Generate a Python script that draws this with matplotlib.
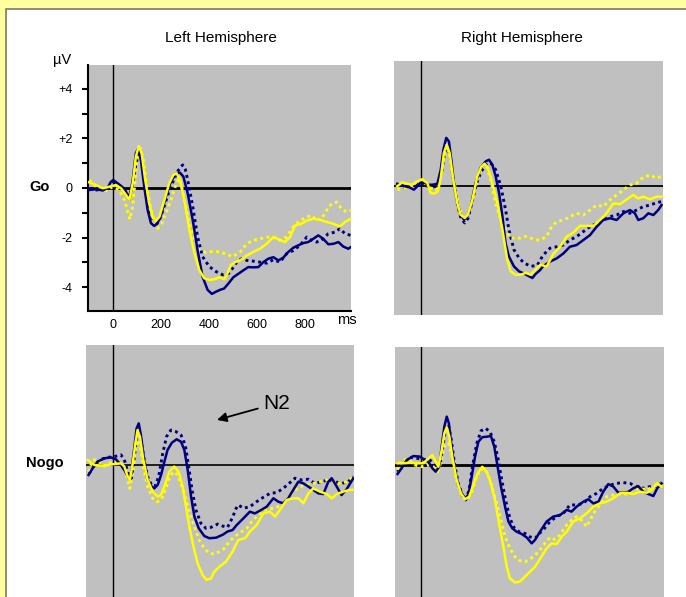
import matplotlib
matplotlib.use('Agg')
import matplotlib.pyplot as plt
from matplotlib.patches import Rectangle

plt.rcParams['font.family'] = ['Liberation Sans', 'DejaVu Sans']

W, H = 686, 597
PX_MS = 0.24   # pixels per ms
PX_UV = 24.8   # pixels per microvolt

NAVY = '#000080'
YELLOW = '#FFFF00'
GREY = '#C0C0C0'

# ---- Go, left hemisphere ----
tl_bs_t = [-100, -72, -44, -24, -10, 0, 18, 39, 53, 67, 81, 94, 104, 115, 129, 143, 157, 171, 185, 199, 219, 240, 261, 278, 292, 310, 331, 351, 372, 393, 411, 428, 449, 461, 479, 500, 521, 542, 562, 583, 604, 625, 646, 667, 688, 708, 729, 750, 771, 792, 812, 833, 854, 875, 896, 917, 938, 958, 979, 990]
tl_bs_v = [-0.08, -0.05, -0.10, 0.0, 0.25, 0.32, 0.19, 0.03, -0.15, -0.48, 0.32, 1.40, 1.60, 1.13, 0.05, -0.89, -1.42, -1.53, -1.40, -1.09, -0.35, 0.26, 0.56, 0.62, 0.46, -0.22, -1.29, -2.50, -3.58, -4.11, -4.27, -4.18, -4.09, -4.06, -3.86, -3.60, -3.46, -3.32, -3.19, -3.20, -3.19, -2.99, -2.85, -2.79, -2.92, -2.81, -2.58, -2.41, -2.31, -2.22, -2.18, -2.05, -1.91, -2.05, -2.27, -2.25, -2.18, -2.36, -2.45, -2.38]
tl_bd_t = [-100, -70, -40, -15, 0, 20, 40, 55, 67, 80, 95, 108, 120, 135, 150, 171, 190, 210, 230, 250, 270, 289, 300, 310, 331, 351, 372, 400, 428, 456, 480, 500, 514, 535, 556, 583, 611, 639, 667, 694, 722, 750, 778, 806, 826, 847, 868, 896, 924, 944, 965, 990]
tl_bd_v = [-0.05, -0.08, -0.05, 0.05, 0.2, 0.15, 0.0, -0.15, -0.35, 0.1, 1.0, 1.46, 1.0, 0.0, -0.9, -1.56, -1.35, -0.8, -0.2, 0.3, 0.7, 0.93, 0.75, 0.32, -0.75, -1.96, -2.77, -3.17, -3.37, -3.5, -3.45, -3.2, -2.99, -2.85, -2.92, -2.95, -2.99, -3.03, -2.89, -2.99, -2.65, -2.52, -2.31, -1.98, -2.11, -2.18, -2.11, -1.84, -1.78, -1.64, -1.84, -1.91]
tl_ys_t = [-107, -72, -44, -17, 11, 32, 53, 67, 81, 94, 106, 118, 133, 150, 164, 178, 192, 213, 233, 250, 264, 278, 296, 317, 338, 358, 379, 400, 421, 442, 463, 476, 490, 511, 528, 556, 583, 611, 639, 667, 694, 715, 736, 757, 785, 806, 833, 861, 889, 917, 944, 965, 990]
tl_ys_v = [0.25, 0.12, -0.01, 0.05, 0.12, -0.01, -0.28, -0.48, 0.19, 1.26, 1.69, 1.40, 0.32, -0.62, -1.16, -1.32, -1.16, -0.48, 0.19, 0.52, 0.59, 0.32, -0.48, -1.69, -2.63, -3.30, -3.64, -3.71, -3.68, -3.60, -3.68, -3.44, -3.10, -2.97, -2.92, -2.72, -2.58, -2.45, -2.25, -1.98, -2.09, -2.18, -1.98, -1.51, -1.44, -1.31, -1.24, -1.28, -1.37, -1.44, -1.55, -1.37, -1.24]
tl_yd_t = [-100, -79, -58, -31, -3, 25, 46, 60, 69, 81, 92, 101, 111, 125, 139, 157, 171, 185, 203, 219, 240, 258, 272, 282, 296, 317, 338, 358, 386, 414, 442, 469, 497, 528, 556, 583, 611, 639, 667, 694, 722, 750, 778, 806, 826, 847, 868, 889, 910, 931, 951, 972, 990]
tl_yd_v = [0.32, 0.12, -0.08, -0.11, 0.05, -0.08, -0.48, -0.95, -1.26, -0.75, 0.46, 1.47, 1.67, 1.13, 0.05, -0.89, -1.42, -1.63, -1.42, -1.02, -0.48, 0.05, 0.39, 0.19, -0.48, -1.42, -2.10, -2.50, -2.60, -2.56, -2.57, -2.66, -2.77, -2.58, -2.25, -2.11, -2.05, -1.98, -1.98, -2.11, -1.98, -1.57, -1.31, -1.17, -1.10, -1.31, -1.24, -0.90, -0.63, -0.57, -0.83, -0.97, -0.90]

# ---- Go, right hemisphere ----
tr_bs_t = [-100, -72, -51, -31, -10, 4, 25, 46, 67, 81, 92, 104, 115, 125, 136, 150, 164, 178, 192, 206, 226, 247, 268, 282, 296, 310, 324, 338, 351, 365, 386, 407, 428, 449, 463, 476, 494, 508, 536, 564, 592, 619, 647, 675, 703, 731, 758, 786, 814, 842, 869, 890, 904, 925, 946, 967, 987, 1001]
tr_bs_v = [0.09, 0.0, -0.05, -0.15, 0.05, 0.23, 0.05, 0.05, 0.09, 0.66, 1.47, 1.94, 1.80, 1.06, 0.12, -0.69, -1.16, -1.36, -1.22, -0.82, 0.12, 0.73, 0.99, 1.06, 0.86, 0.39, -0.28, -1.22, -2.30, -2.84, -3.24, -3.44, -3.53, -3.64, -3.71, -3.55, -3.40, -3.23, -3.05, -2.92, -2.72, -2.45, -2.38, -2.18, -1.98, -1.64, -1.37, -1.30, -1.37, -1.10, -0.97, -1.10, -1.37, -1.30, -1.10, -1.17, -0.97, -0.77]
tr_bd_t = [-100, -72, -45, -20, 0, 20, 45, 67, 85, 97, 108, 120, 133, 150, 165, 181, 195, 210, 230, 250, 270, 289, 310, 331, 351, 365, 386, 407, 428, 456, 483, 508, 536, 564, 592, 619, 647, 675, 703, 731, 758, 786, 814, 842, 869, 897, 925, 953, 981, 1001]
tr_bd_v = [0.05, -0.05, 0.0, 0.1, 0.15, 0.0, -0.05, 0.0, 0.6, 1.3, 1.60, 1.2, 0.3, -0.7, -1.3, -1.49, -1.3, -0.7, 0.1, 0.6, 0.85, 0.93, 0.66, 0.0, -0.95, -1.76, -2.57, -2.90, -3.10, -3.24, -3.20, -2.78, -2.51, -2.45, -2.38, -2.18, -2.04, -1.84, -1.64, -1.51, -1.37, -1.24, -1.17, -1.03, -1.10, -0.97, -0.83, -0.77, -0.67, -0.63]
tr_ys_t = [-100, -79, -58, -38, -17, 4, 25, 39, 53, 69, 81, 94, 106, 118, 133, 150, 164, 181, 194, 213, 233, 250, 264, 278, 296, 317, 338, 358, 372, 393, 414, 435, 456, 476, 497, 522, 550, 578, 606, 633, 661, 689, 717, 744, 772, 800, 828, 856, 883, 904, 925, 953, 981, 1001]
tr_ys_v = [-0.01, 0.15, 0.09, 0.05, 0.19, 0.26, 0.12, -0.28, -0.31, -0.22, 0.32, 1.33, 1.67, 1.33, 0.26, -0.69, -1.16, -1.29, -1.16, -0.55, 0.39, 0.77, 0.90, 0.72, 0.12, -0.69, -1.76, -2.97, -3.44, -3.58, -3.58, -3.50, -3.58, -3.37, -3.17, -3.25, -2.74, -2.45, -2.04, -1.88, -1.61, -1.61, -1.61, -1.37, -1.10, -0.70, -0.73, -0.54, -0.36, -0.50, -0.43, -0.54, -0.43, -0.43]
tr_yd_t = [-100, -72, -44, -17, 4, 25, 46, 67, 88, 101, 111, 122, 136, 153, 171, 185, 203, 219, 240, 258, 272, 289, 310, 331, 351, 372, 393, 414, 435, 456, 476, 494, 522, 543, 564, 592, 619, 647, 675, 703, 731, 758, 786, 814, 842, 869, 897, 925, 953, 981, 1001]
tr_yd_v = [-0.15, -0.08, -0.04, 0.19, 0.26, 0.05, -0.15, -0.15, 0.79, 1.47, 1.53, 1.06, 0.19, -0.69, -1.22, -1.29, -0.95, -0.28, 0.46, 0.86, 0.79, 0.26, -0.69, -1.36, -1.76, -2.10, -2.10, -2.10, -2.03, -2.10, -2.17, -2.18, -2.04, -1.64, -1.44, -1.37, -1.24, -1.10, -1.17, -0.97, -0.77, -0.83, -0.56, -0.36, -0.16, 0.04, 0.11, 0.35, 0.44, 0.31, 0.40]

# ---- Nogo, left hemisphere ----
bl_bs_t = [-103, -86, -65, -38, -10, 11, 32, 50, 64, 74, 88, 97, 106, 115, 129, 143, 157, 171, 185, 199, 213, 226, 244, 264, 282, 296, 310, 324, 338, 356, 379, 400, 428, 456, 476, 497, 514, 542, 569, 590, 611, 639, 667, 688, 708, 729, 750, 771, 792, 813, 833, 854, 875, 896, 910, 931, 951, 972, 1000]
bl_bs_v = [-0.39, -0.12, 0.15, 0.28, 0.32, 0.24, 0.01, -0.26, -0.52, -0.39, 0.75, 1.49, 1.69, 1.22, 0.15, -0.59, -0.83, -0.93, -0.79, -0.39, 0.15, 0.62, 0.91, 1.05, 0.95, 0.62, -0.19, -1.26, -2.07, -2.54, -2.85, -2.94, -2.92, -2.80, -2.67, -2.61, -2.41, -2.14, -1.87, -1.94, -1.83, -1.67, -1.33, -1.47, -1.53, -1.33, -0.99, -0.66, -0.73, -0.86, -0.99, -1.13, -1.16, -0.66, -0.52, -0.86, -1.20, -0.97, -0.52]
bl_bd_t = [-100, -79, -51, -24, 4, 32, 46, 60, 74, 88, 97, 106, 115, 129, 143, 161, 175, 189, 206, 222, 240, 261, 282, 300, 314, 328, 344, 365, 386, 407, 435, 456, 476, 497, 511, 521, 542, 569, 597, 625, 653, 681, 708, 736, 757, 785, 813, 840, 868, 896, 924, 951, 979, 1000]
bl_bd_v = [-0.32, 0.01, 0.24, 0.32, 0.35, 0.42, 0.22, -0.26, -0.66, 0.35, 1.16, 1.42, 1.02, 0.22, -0.46, -0.83, -0.83, -0.46, 0.48, 1.16, 1.42, 1.36, 1.22, 0.82, -0.05, -0.99, -1.80, -2.34, -2.54, -2.50, -2.37, -2.45, -2.50, -2.10, -1.75, -1.60, -1.73, -1.67, -1.47, -1.29, -1.13, -1.10, -0.93, -0.70, -0.52, -0.59, -0.56, -0.73, -0.66, -0.59, -0.66, -0.73, -0.66, -0.46]
bl_ys_t = [-107, -79, -51, -24, 4, 32, 46, 60, 69, 81, 92, 101, 111, 125, 143, 164, 185, 199, 213, 233, 254, 272, 289, 303, 317, 331, 351, 372, 389, 407, 421, 442, 469, 497, 511, 521, 549, 569, 597, 625, 653, 674, 694, 722, 750, 771, 792, 813, 833, 861, 889, 910, 931, 958, 986, 1000]
bl_ys_v = [0.22, 0.01, -0.01, 0.01, 0.05, 0.08, -0.05, -0.46, -0.59, 0.08, 0.89, 1.42, 1.15, 0.22, -0.59, -1.06, -1.26, -1.19, -0.86, -0.26, -0.05, -0.26, -0.86, -1.67, -2.48, -3.15, -3.95, -4.42, -4.62, -4.56, -4.29, -4.09, -3.89, -3.48, -3.20, -3.01, -2.94, -2.67, -2.41, -1.94, -1.87, -2.07, -1.80, -1.40, -1.33, -1.33, -1.53, -1.13, -0.93, -1.06, -1.16, -1.33, -1.16, -1.06, -0.99, -0.99]
bl_yd_t = [-103, -86, -65, -38, -10, 18, 39, 56, 69, 81, 92, 101, 113, 125, 143, 164, 181, 199, 217, 233, 250, 268, 286, 303, 319, 338, 358, 379, 400, 421, 442, 463, 483, 504, 528, 556, 583, 611, 639, 667, 694, 722, 750, 778, 806, 833, 861, 889, 917, 944, 972, 1000]
bl_yd_v = [-0.26, 0.22, 0.22, -0.03, 0.11, 0.15, 0.01, -0.46, -0.93, -0.32, 0.62, 1.02, 0.75, -0.05, -0.86, -1.33, -1.47, -1.40, -0.99, -0.52, -0.26, -0.39, -0.86, -1.40, -1.94, -2.48, -3.01, -3.35, -3.55, -3.58, -3.48, -3.35, -3.08, -2.88, -2.72, -2.54, -2.20, -1.94, -1.77, -1.73, -1.64, -1.40, -1.06, -0.86, -0.79, -0.73, -0.66, -0.59, -0.66, -0.73, -0.66, -0.48]

# ---- Nogo, right hemisphere ----
br_bs_t = [-99, -82, -61, -33, -6, 15, 29, 46, 60, 74, 85, 96, 106, 115, 126, 140, 154, 168, 182, 196, 210, 224, 238, 254, 272, 290, 304, 318, 332, 349, 363, 379, 397, 418, 439, 460, 474, 494, 522, 550, 578, 606, 626, 647, 675, 696, 717, 738, 758, 779, 800, 821, 842, 863, 883, 904, 925, 946, 967, 983, 1001]
br_bs_v = [-0.36, -0.13, 0.20, 0.36, 0.34, 0.20, 0.13, -0.13, -0.27, -0.07, 0.74, 1.55, 1.95, 1.68, 0.74, -0.20, -0.81, -1.14, -1.34, -1.21, -0.47, 0.34, 0.94, 1.12, 1.14, 1.17, 0.74, -0.07, -0.87, -1.68, -2.28, -2.55, -2.69, -2.78, -2.92, -3.16, -3.02, -2.70, -2.28, -2.08, -2.02, -1.81, -1.88, -1.68, -1.48, -1.38, -1.55, -1.48, -1.08, -0.77, -0.87, -1.12, -1.12, -1.08, -0.94, -0.85, -1.08, -1.17, -1.25, -0.94, -0.74]
br_bd_t = [-99, -75, -47, -19, 8, 36, 50, 64, 78, 92, 101, 113, 124, 138, 154, 171, 185, 199, 213, 231, 249, 268, 286, 304, 321, 335, 351, 369, 388, 407, 432, 453, 474, 494, 508, 536, 564, 592, 619, 647, 675, 703, 731, 758, 786, 814, 842, 869, 897, 925, 953, 981, 1001]
br_bd_v = [-0.27, 0.07, 0.31, 0.27, 0.23, 0.20, 0.07, -0.13, 0.0, 0.87, 1.48, 1.61, 1.08, 0.07, -0.74, -1.21, -1.41, -1.01, -0.07, 0.87, 1.38, 1.48, 1.34, 0.94, 0.20, -0.60, -1.41, -2.15, -2.55, -2.69, -2.76, -2.90, -2.96, -2.74, -2.62, -2.28, -2.08, -1.95, -1.61, -1.61, -1.55, -1.28, -1.14, -0.94, -0.81, -0.74, -0.71, -0.74, -0.87, -0.94, -0.87, -0.87, -0.71]
br_ys_t = [-99, -75, -47, -19, 8, 26, 46, 60, 71, 85, 96, 106, 117, 129, 147, 165, 182, 199, 217, 235, 254, 272, 290, 307, 324, 342, 356, 369, 390, 411, 432, 453, 474, 494, 522, 543, 564, 585, 606, 633, 661, 689, 717, 744, 772, 800, 828, 856, 883, 911, 939, 960, 981, 1001]
br_ys_v = [0.07, 0.07, 0.09, 0.07, 0.07, 0.23, 0.40, 0.13, -0.07, 0.60, 1.28, 1.52, 1.14, 0.34, -0.60, -1.14, -1.38, -1.28, -0.81, -0.34, -0.07, -0.27, -0.74, -1.41, -2.35, -3.29, -4.10, -4.57, -4.74, -4.70, -4.50, -4.30, -4.10, -3.80, -3.36, -3.16, -3.19, -2.89, -2.69, -2.28, -2.15, -1.95, -1.68, -1.55, -1.48, -1.34, -1.14, -1.12, -1.17, -1.08, -1.12, -1.01, -0.74, -0.87]
br_yd_t = [-99, -82, -54, -26, 1, 29, 50, 68, 82, 92, 101, 113, 126, 140, 157, 175, 193, 210, 226, 244, 263, 279, 296, 314, 332, 349, 369, 390, 411, 432, 453, 474, 494, 515, 536, 557, 578, 599, 619, 647, 675, 689, 717, 744, 772, 800, 828, 856, 883, 911, 939, 967, 988, 1001]
br_yd_v = [-0.20, 0.20, 0.23, 0.0, -0.07, 0.0, -0.07, -0.27, 0.13, 0.60, 0.87, 0.87, 0.47, -0.34, -0.94, -1.34, -1.41, -1.08, -0.60, -0.20, -0.13, -0.40, -0.94, -1.55, -2.22, -2.89, -3.36, -3.70, -3.86, -3.90, -3.80, -3.63, -3.43, -3.16, -2.92, -3.00, -2.82, -2.49, -2.28, -2.08, -2.28, -2.49, -1.95, -1.61, -1.28, -1.21, -1.17, -1.17, -1.01, -0.94, -1.01, -0.87, -0.81, -0.74]


def panel(left, top, right, bottom, x0, y0):
    # pixel box of the grey area plus pixel position of (0 ms, 0 uV)
    ax = fig.add_axes([left / W, 1 - bottom / H, (right - left) / W, (bottom - top) / H])
    ax.set_facecolor(GREY)
    ax.set_xlim((left - x0) / PX_MS, (right - x0) / PX_MS)
    ax.set_ylim((y0 - bottom) / PX_UV, (y0 - top) / PX_UV)
    for s in ax.spines.values():
        s.set_visible(False)
    ax.set_xticks([])
    ax.set_yticks([])
    return ax


def draw(ax, curves, zero_lw):
    ax.axhline(0, color='black', lw=zero_lw, zorder=1)
    ax.axvline(0, color='black', lw=1.0, zorder=1)
    for t, v, c, dotted in curves:
        if dotted:
            ax.plot(t, v, color=c, lw=2.1, linestyle=(0, (1, 1.2)), zorder=2)
        else:
            ax.plot(t, v, color=c, lw=1.8, zorder=3)


fig = plt.figure(figsize=(W / 100, H / 100), dpi=100)
fig.patch.set_facecolor('#FFFFA0')
fig.patches.append(Rectangle((6 / W, -0.1), 1.0, 1 - 9 / H + 0.1, transform=fig.transFigure,
                             facecolor='white', edgecolor='#7a7a60', lw=1.2, zorder=-5))

ax_tl = panel(88, 65, 351, 311, 113.3, 188)
draw(ax_tl, [(tl_bd_t, tl_bd_v, NAVY, True), (tl_bs_t, tl_bs_v, NAVY, False),
             (tl_yd_t, tl_yd_v, YELLOW, True), (tl_ys_t, tl_ys_v, YELLOW, False)], 2.0)
ax_tl.spines['left'].set_visible(True)
ax_tl.spines['bottom'].set_visible(True)
ax_tl.spines['left'].set_linewidth(1.5)
ax_tl.spines['bottom'].set_linewidth(1.5)
ax_tl.set_yticks([-4, -2, 0, 2, 4], labels=['-4', '-2', '0', '+2', '+4'])
ax_tl.set_yticks([-3, -1, 1, 3], minor=True)
ax_tl.tick_params(axis='y', which='both', direction='out', length=4, width=1.5, labelsize=9, pad=7)
ax_tl.set_xticks([0, 200, 400, 600, 800])
ax_tl.tick_params(axis='x', length=0, labelsize=9, pad=6)

ax_tr = panel(394, 61, 663, 315, 421.3, 186)
draw(ax_tr, [(tr_bd_t, tr_bd_v, NAVY, True), (tr_bs_t, tr_bs_v, NAVY, False),
             (tr_yd_t, tr_yd_v, YELLOW, True), (tr_ys_t, tr_ys_v, YELLOW, False)], 1.3)

ax_bl = panel(86, 345, 354, 620, 113.3, 465.3)
draw(ax_bl, [(bl_bd_t, bl_bd_v, NAVY, True), (bl_bs_t, bl_bs_v, NAVY, False),
             (bl_yd_t, bl_yd_v, YELLOW, True), (bl_ys_t, bl_ys_v, YELLOW, False)], 1.2)

ax_br = panel(395, 347, 664, 620, 421.3, 465)
draw(ax_br, [(br_bd_t, br_bd_v, NAVY, True), (br_bs_t, br_bs_v, NAVY, False),
             (br_yd_t, br_yd_v, YELLOW, True), (br_ys_t, br_ys_v, YELLOW, False)], 2.0)

# labels
fig.text(221 / W, 1 - 38 / H, 'Left Hemisphere', ha='center', va='center', fontsize=11)
fig.text(522 / W, 1 - 38 / H, 'Right Hemisphere', ha='center', va='center', fontsize=11)
fig.text(62 / W, 1 - 60 / H, 'µV', ha='center', va='center', fontsize=10.5)
fig.text(347 / W, 1 - 320 / H, 'ms', ha='center', va='center', fontsize=10.5)
fig.text(40 / W, 1 - 187 / H, 'Go', ha='center', va='center', fontsize=10.5, fontweight='bold')
fig.text(45 / W, 1 - 463 / H, 'Nogo', ha='center', va='center', fontsize=10.5, fontweight='bold')

ax_bl.annotate('N2', xy=(432, 1.83), xytext=(625, 2.5), fontsize=15, va='center', ha='left',
               arrowprops=dict(arrowstyle='-|>', color='black', lw=1.3, mutation_scale=14,
                               shrinkA=2, shrinkB=0))

fig.savefig('out.png', dpi=100, facecolor=fig.get_facecolor())
